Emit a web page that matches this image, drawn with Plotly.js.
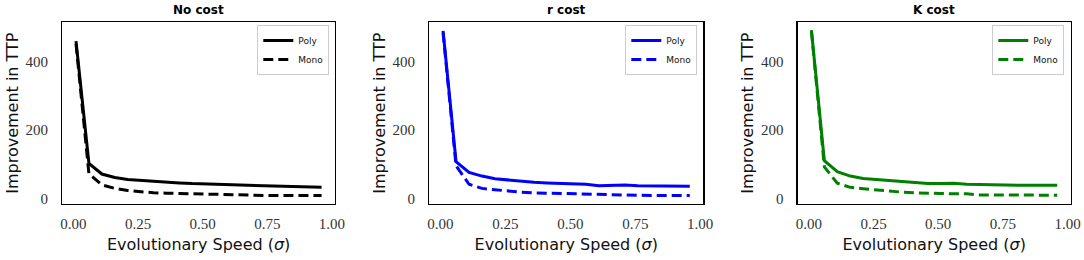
<!DOCTYPE html>
<html>
<head>
<meta charset="utf-8">
<script src="https://cdn.plot.ly/plotly-3.0.1.min.js"></script>
<style>html,body{margin:0;padding:0;background:#fff;}#chart{width:1084px;height:260px;}</style>
</head>
<body>
<div id="chart"></div>
<script>
// Evolutionary speed (sigma) values
const sigma = [0.01, 0.06, 0.11, 0.16, 0.21, 0.26, 0.31, 0.36, 0.41, 0.46, 0.51, 0.56, 0.61, 0.66, 0.71, 0.76, 0.81, 0.86, 0.91, 0.96];
// Improvement in TTP
const noCostPoly = [460, 102, 71, 61, 55, 52, 49, 47, 45, 43, 42, 41, 38, 37, 38, 35, 35, 35, 33, 32];
const noCostMono = [452, 72, 39, 29, 23, 19, 16, 15, 14, 13, 12.5, 12, 11, 8, 8, 8, 8, 8, 8, 8];
const rCostPoly  = [490, 107, 76, 65, 57, 53, 49, 47, 45, 44, 42, 41, 37, 39, 39, 37, 36, 36, 36, 35];
const rCostMono  = [485, 95, 41, 29, 25, 21, 18, 16, 15, 13, 12, 12, 10, 10, 9, 8, 8, 8, 8, 8];
const kCostPoly  = [492, 110, 78, 65, 58, 55, 52, 49, 46, 43, 43, 44, 41, 41, 41, 39, 38, 38, 38, 38];
const kCostMono  = [490, 92, 44, 32, 28, 24, 20, 18, 16, 14, 14, 13, 13, 10, 10, 10, 9, 9, 9, 9];

const panelTitles = ['No cost', 'r cost', 'K cost'];
const seriesNames = ['Poly', 'Mono'];
const panelColors = ['#000000', '#0000ff', '#008000'];
const xTickVals = [0, 0.25, 0.5, 0.75, 1.0];
const yTickVals = [0, 200, 400];

const panels = [
  [noCostPoly, noCostMono],
  [rCostPoly, rCostMono],
  [kCostPoly, kCostMono]
];

const W = 1084, H = 260;
const boxes = [[62.3, 335], [429.3, 703.3], [797.7, 1070.7]];
const yTop = 22.3, yBot = 204;
const legendRight = [329.3, 697.3, 1064.3];

const traces = [];
const layout = {
  width: W, height: H,
  margin: {l: 0, r: 0, t: 0, b: 0},
  paper_bgcolor: '#ffffff',
  plot_bgcolor: '#ffffff',
  showlegend: true,
  annotations: []
};

const serif = '"Liberation Serif", "DejaVu Serif", serif';
const sans = '"DejaVu Sans", sans-serif';

panels.forEach((p, i) => {
  const sfx = i === 0 ? '' : String(i + 1);
  const legName = 'legend' + sfx;
  p.forEach((vals, j) => {
    traces.push({
      type: 'scatter', mode: 'lines',
      x: sigma, y: vals,
      name: seriesNames[j],
      xaxis: 'x' + sfx, yaxis: 'y' + sfx,
      legend: legName,
      line: {color: panelColors[i], width: 3, dash: j === 0 ? 'solid' : '10px,5px'},
      hoverinfo: 'skip'
    });
  });
  layout['xaxis' + sfx] = {
    domain: [boxes[i][0] / W, boxes[i][1] / W],
    anchor: 'y' + sfx,
    range: [-0.043, 1.012],
    tickvals: xTickVals,
    tickformat: '.2f',
    ticks: '', ticklabelstandoff: 6,
    showgrid: false, zeroline: false,
    showline: true, mirror: true, linecolor: '#000', linewidth: 1.3,
    tickfont: {family: serif, size: 15, color: '#333'},
    title: {text: 'Evolutionary Speed (<i>σ</i>)', font: {family: sans, size: 16, color: '#111'}, standoff: 7}
  };
  layout['yaxis' + sfx] = {
    domain: [1 - yBot / H, 1 - yTop / H],
    anchor: 'x' + sfx,
    range: [-16.7, 515],
    tickvals: yTickVals,
    ticks: '', ticklabelstandoff: 10,
    showgrid: false, zeroline: false,
    showline: true, mirror: true, linecolor: '#000', linewidth: 1.3,
    tickfont: {family: serif, size: 15, color: '#333'},
    title: {text: 'Improvement in TTP', font: {family: sans, size: 16, color: '#111'}, standoff: 3}
  };
  layout[legName] = {
    x: legendRight[i] / W, y: 1 - 25 / H,
    xanchor: 'right', yanchor: 'top',
    bgcolor: '#ffffff', bordercolor: '#cccccc', borderwidth: 1,
    font: {family: sans, size: 9, color: '#111'},
    itemwidth: 30, tracegroupgap: 0
  };
  layout.annotations.push({
    xref: 'paper', yref: 'paper',
    x: (boxes[i][0] + boxes[i][1]) / 2 / W, y: 1 - 10.5 / H,
    xanchor: 'center', yanchor: 'middle',
    text: '<b>' + panelTitles[i] + '</b>', showarrow: false,
    font: {family: sans, size: 12, color: '#000'}
  });
});

Plotly.newPlot('chart', traces, layout, {staticPlot: true, displayModeBar: false});
</script>
</body>
</html>
